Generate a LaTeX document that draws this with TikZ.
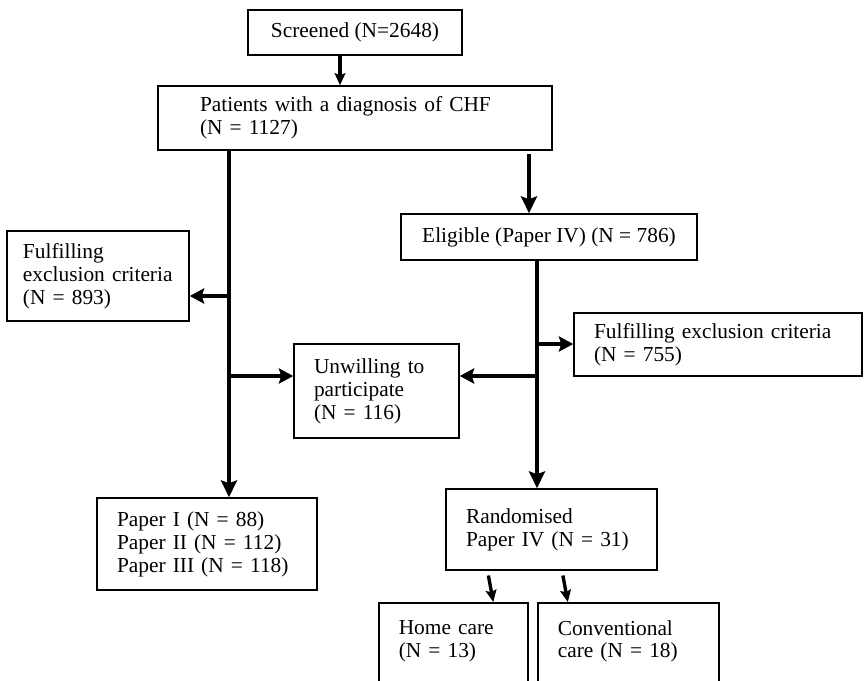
\documentclass[tikz,border=0pt]{standalone}
\usepackage{fontspec}
\setmainfont{Liberation Serif}
\usetikzlibrary{arrows.meta}
\begin{document}
\begin{tikzpicture}

\tikzstyle{box}=[shape=rectangle, draw, line width=1.1pt,
    align=left, inner xsep=0.5cm,
    font=\fontsize{15.2}{16.3}\selectfont]
\tikzstyle{trunk}=[->, >={Stealth[length=0.42cm,width=0.4cm,inset=0.07cm]}, line width=2.9pt]
\tikzstyle{branch}=[->, >={Stealth[length=0.36cm,width=0.38cm,inset=0.06cm]}, line width=2.2pt]
\tikzstyle{small}=[->, >={Stealth[length=0.3cm,width=0.27cm,inset=0.05cm]}, line width=2.4pt]

\useasboundingbox (0,0) rectangle (21.6,-17);
\clip (0,0) rectangle (21.6,-17);

  \node[box, align=center, minimum width=5.35cm, minimum height=1.125cm] (screened) at (8.875,-0.8125) {Screened (N=2648)};
  \node[box, inner xsep=1.05cm, text width=7.75cm, minimum height=1.6cm] (chf) at (8.875,-2.95) {Patients with a diagnosis of CHF\\(N = 1127)};

  \draw[small] ([xshift=-0.375cm]screened.south) -- ([xshift=-0.375cm]screened.south |- chf.north);

  \node[box, align=center, minimum width=7.4cm, minimum height=1.15cm] (eligible) at (13.725,-5.925) {Eligible (Paper IV) (N = 786)};
  \draw[trunk, shorten <=0.08cm] ([xshift=-0.5cm]eligible.north |- chf.south) -- ([xshift=-0.5cm]eligible.north);

  \node[box, inner xsep=0.4cm, text width=3.75cm, minimum height=2.25cm] (exclL) at (2.45,-6.9) {Fulfilling\\exclusion criteria\\(N = 893)};
  \node[box, text width=3.125cm, minimum height=2.35cm] (unwilling) at (9.4125,-9.775) {Unwilling to\\participate\\(N = 116)};
  \node[box, text width=6.2cm, minimum height=1.575cm] (exclR) at (17.95,-8.6125) {Fulfilling exclusion criteria\\(N = 755)};

  \node[box, text width=4.5cm, minimum height=2.3cm] (papers) at (5.175,-13.6) {Paper I (N = 88)\\Paper II (N = 112)\\Paper III (N = 118)};
  \node[box, text width=4.275cm, minimum height=2.025cm] (randomised) at (13.7875,-13.2375) {Randomised\\Paper IV (N = 31)};

  \node[box, anchor=north west, inner ysep=0.435cm, text width=2.725cm, text depth=2.5cm] (home) at (9.45,-15.05) {Home care\\(N = 13)};
  \node[box, anchor=north west, inner ysep=0.435cm, text width=3.525cm, text depth=2.5cm] (conv) at (13.425,-15.05) {Conventional\\care (N = 18)};

% left trunk
\coordinate (lj1) at (5.725,-7.4);
\coordinate (lj2) at (5.725,-9.4);
\draw[trunk] (chf.south -| lj1) -- (papers.north -| lj1);
\draw[branch] (lj1) -- (lj1 -| exclL.east);
\draw[branch] (lj2) -- (lj2 -| unwilling.west);

% right trunk
\coordinate (rj1) at (13.425,-8.6);
\coordinate (rj2) at (13.425,-9.4);
\draw[trunk] (eligible.south -| rj1) -- (randomised.north -| rj1);
\draw[branch] (rj1) -- (rj1 -| exclR.west);
\draw[branch] (rj2) -- (rj2 -| unwilling.east);

% randomisation
\draw[small, shorten <=0.12cm] ([xshift=-1.6cm]randomised.south) -- ([xshift=1cm]home.north);
\draw[small, shorten <=0.12cm] ([xshift=0.2625cm]randomised.south) -- ([xshift=-1.5125cm]conv.north);

\end{tikzpicture}
\end{document}
